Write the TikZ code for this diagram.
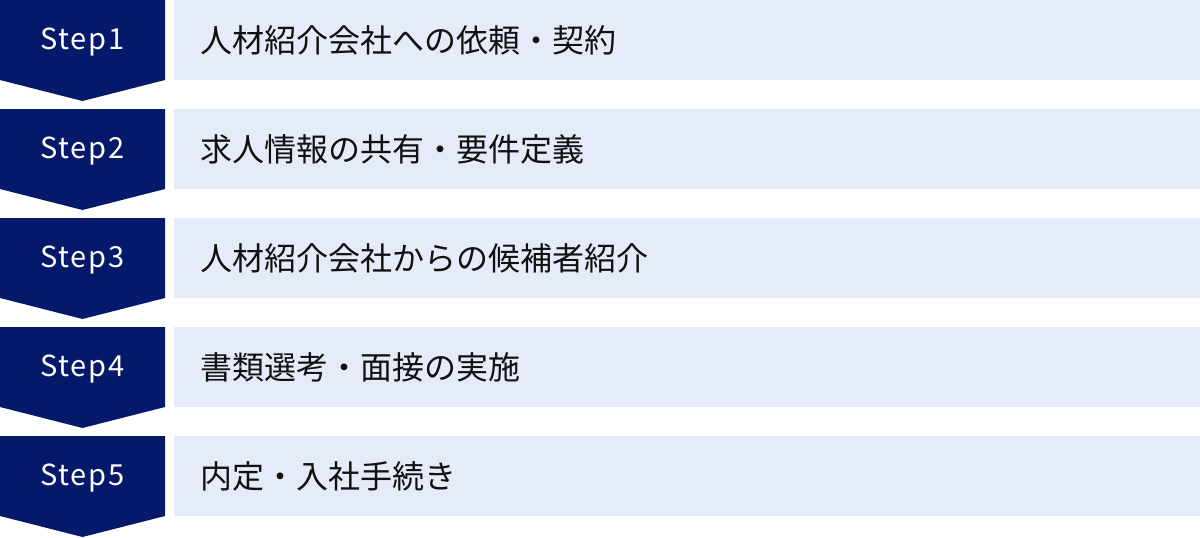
\documentclass[tikz,border=0pt]{standalone}
\usepackage{fontspec}
\newfontfamily\jpfont{Noto Sans CJK JP}
\newfontfamily\stepfont[LetterSpace=6]{Noto Sans CJK JP}
\definecolor{navy}{HTML}{05196A}
\definecolor{lightbox}{HTML}{E5EBF8}
\definecolor{txt}{HTML}{111111}
\tikzset{
  chev/.style={fill=navy, draw=none},
  bar/.style={fill=lightbox, draw=none},
  steplabel/.style={text=white, font=\stepfont\fontsize{29}{29}\selectfont, inner sep=0pt, anchor=center},
  desc/.style={text=txt, font=\jpfont\fontsize{32}{32}\selectfont, inner sep=0pt, anchor=west}
}
\begin{document}
\begin{tikzpicture}[x=1pt,y=-1pt]
\useasboundingbox (0,0) rectangle (1200,538);
\foreach \i/\lab/\txt in {0/Step1/人材紹介会社への依頼・契約,1/Step2/求人情報の共有・要件定義,2/Step3/人材紹介会社からの候補者紹介,3/Step4/書類選考・面接の実施,4/Step5/内定・入社手続き}{
  \pgfmathsetmacro{\t}{109*\i}
  \fill[chev] (0,\t) -- (165,\t) -- (165,\t+80) -- (82.5,\t+101) -- (0,\t+80) -- cycle;
  \fill[bar] (174,\t) rectangle (1200,\t+80);
  \node[steplabel] (s\i) at (82.5,\t+42) {\lab};
  \node[desc] (d\i) at (200,\t+40) {\txt};
}
\end{tikzpicture}
\end{document}
